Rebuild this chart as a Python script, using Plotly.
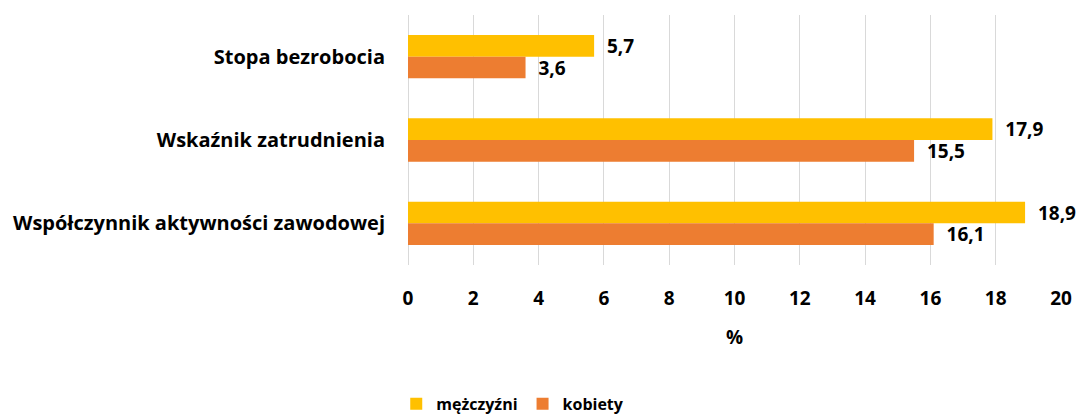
import plotly.graph_objects as go

categories = ["Stopa bezrobocia", "Wskaźnik zatrudnienia", "Współczynnik aktywności zawodowej"]
men = [5.7, 17.9, 18.9]
women = [3.6, 15.5, 16.1]
series_names = ["mężczyźni", "kobiety"]
colors = ["#FFC000", "#ED7D31"]
x_ticks = list(range(0, 21, 2))

def fmt(v):
    return "\u00a0\u00a0" + f"{v:.1f}".replace(".", ",")

FONT = "Open Sans"
def tf(size):
    return dict(family=FONT, size=size, color="black", weight="bold")

fig = go.Figure()
for name, vals, col in zip(series_names, [men, women], colors):
    fig.add_trace(go.Bar(
        y=categories, x=vals, name=name, orientation="h",
        marker=dict(color=col, line=dict(width=0)),
        text=[fmt(v) for v in vals], textposition="outside", constraintext="none",
        textfont=tf(19), cliponaxis=False,
    ))

# page body has an 8px default margin, so the figure is 8px smaller than the window
fig.update_layout(
    width=1077, height=409,
    margin=dict(l=400, r=24, t=7, b=152, autoexpand=False),
    barmode="group", bargap=0.48, bargroupgap=0,
    plot_bgcolor="white", paper_bgcolor="white",
    font=tf(19),
    legend=dict(orientation="h", x=-0.018, xanchor="left", y=-0.555, yanchor="middle",
                font=tf(16), itemwidth=30, tracegroupgap=0),
    xaxis=dict(range=[0, 20], tickvals=x_ticks, showgrid=True, gridcolor="#D9D9D9", gridwidth=1,
               zeroline=True, zerolinecolor="#D9D9D9", zerolinewidth=1,
               ticklabelstandoff=20, automargin=False,
               title=dict(text="%", standoff=20, font=tf(19)),
               tickfont=tf(19)),
    yaxis=dict(autorange="reversed", showgrid=False, ticklabelstandoff=22, automargin=False,
               tickfont=tf(20)),
)
fig.write_html("out.html")
